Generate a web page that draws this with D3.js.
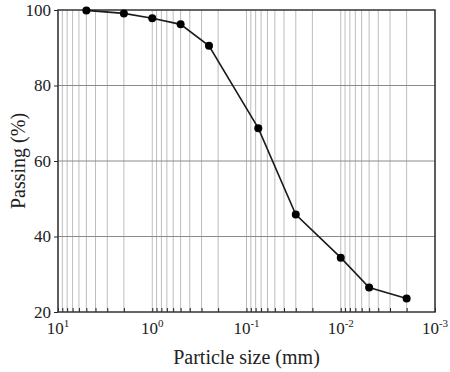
<!DOCTYPE html>
<html>
<head>
<meta charset="utf-8">
<script src="https://cdn.jsdelivr.net/npm/d3@7"></script>
<style>
body { margin: 0; background: #fff; }
text { font-family: "Liberation Serif", "DejaVu Serif", serif; fill: #222; }
</style>
</head>
<body>
<div id="chart"></div>
<script>
// particle size (mm) and percent passing
var sizes = [5, 2, 1, 0.5, 0.25, 0.075, 0.03, 0.01, 0.005, 0.002];
var passing = [99.9, 99.1, 97.8, 96.2, 90.5, 68.7, 45.8, 34.4, 26.5, 23.6];

var y_ticks = [20, 40, 60, 80, 100];
var x_decades = [1, 0, -1, -2, -3];

var margin = {top: 10, right: 15, bottom: 60, left: 58},
    width = 450 - margin.left - margin.right,
    height = 372 - margin.top - margin.bottom;

var svg = d3.select("#chart")
    .append("svg")
    .attr("width", 450)
    .attr("height", 372);

var canvas = svg.append("g")
    .attr("transform", "translate(" + margin.left + "," + margin.top + ")");

var scale_x = d3.scaleLog()
    .domain([10, 0.001])
    .range([0, width]);

var scale_y = d3.scaleLinear()
    .domain([20, 100])
    .range([height, 0]);

var minor = scale_x.ticks();

// vertical grid at every 1..9 step of each decade
canvas.append("g")
    .selectAll("line")
    .data(minor)
    .enter()
    .append("line")
    .attr("x1", function(d) { return scale_x(d); })
    .attr("x2", function(d) { return scale_x(d); })
    .attr("y1", 0)
    .attr("y2", height)
    .attr("stroke", "#bdbdbd")
    .attr("stroke-width", 1);

// horizontal grid
canvas.append("g")
    .selectAll("line")
    .data(y_ticks.slice(1, -1))
    .enter()
    .append("line")
    .attr("x1", 0)
    .attr("x2", width)
    .attr("y1", function(d) { return scale_y(d); })
    .attr("y2", function(d) { return scale_y(d); })
    .attr("stroke", "#8a8a8a")
    .attr("stroke-width", 1);

// x axis: inward ticks, labels drawn by hand as powers of ten
var xaxis = canvas.append("g")
    .attr("transform", "translate(0," + height + ")")
    .call(d3.axisTop(scale_x).tickValues(minor).tickSize(4).tickFormat(""));
xaxis.select(".domain").remove();
xaxis.selectAll("line").attr("stroke", "#222");

var xlab = canvas.append("g")
    .selectAll("text")
    .data(x_decades)
    .enter()
    .append("text")
    .attr("x", function(d) { return scale_x(Math.pow(10, d)); })
    .attr("y", height + 22)
    .attr("text-anchor", "middle")
    .style("font-size", "17px");
xlab.append("tspan").text("10");
xlab.append("tspan")
    .attr("dy", -7)
    .style("font-size", "11px")
    .text(function(d) { return d; });

// y axis
var yaxis = canvas.append("g")
    .call(d3.axisLeft(scale_y).tickValues(y_ticks).tickSize(4).tickPadding(3));
yaxis.select(".domain").remove();
yaxis.selectAll("line").attr("stroke", "#222");
yaxis.selectAll("text")
    .style("font-size", "17px")
    .style("font-family", "'Liberation Serif', serif")
    .attr("fill", "#222");

// frame
canvas.append("rect")
    .attr("width", width)
    .attr("height", height)
    .attr("fill", "none")
    .attr("stroke", "#333")
    .attr("stroke-width", 1.5);

// curve and points
var pts = sizes.map(function(s, i) { return {x: s, y: passing[i]}; });

canvas.append("path")
    .datum(pts)
    .attr("d", d3.line()
	  .x(function(d) { return scale_x(d.x); })
	  .y(function(d) { return scale_y(d.y); }))
    .attr("fill", "none")
    .attr("stroke", "#1a1a1a")
    .attr("stroke-width", 1.6);

canvas.append("g")
    .selectAll("circle")
    .data(pts)
    .enter()
    .append("circle")
    .attr("cx", function(d) { return scale_x(d.x); })
    .attr("cy", function(d) { return scale_y(d.y); })
    .attr("r", 4)
    .attr("fill", "#000");

// axis titles
svg.append("text")
    .attr("x", margin.left + width / 2)
    .attr("y", 364)
    .attr("text-anchor", "middle")
    .style("font-size", "20px")
    .text("Particle size (mm)");

svg.append("text")
    .attr("transform", "translate(25," + (margin.top + height / 2) + ") rotate(-90)")
    .attr("text-anchor", "middle")
    .style("font-size", "20px")
    .text("Passing (%)");
</script>
</body>
</html>
